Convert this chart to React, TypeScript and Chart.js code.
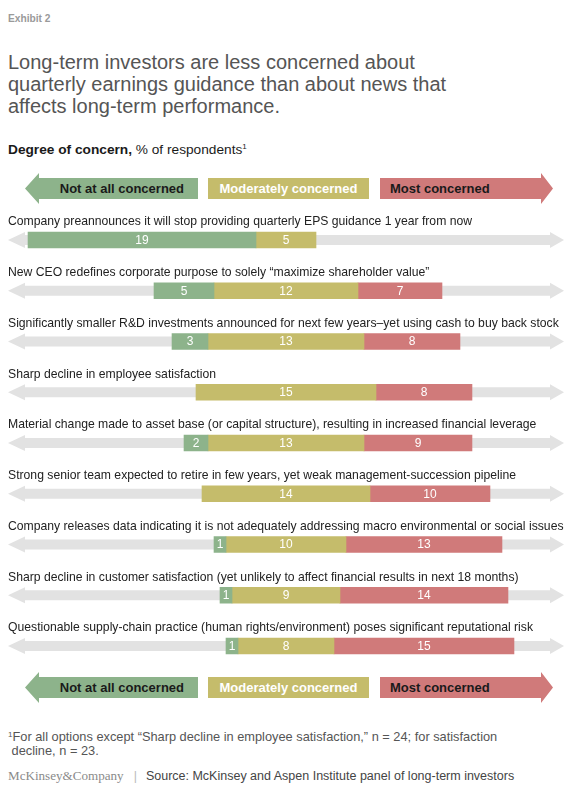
import { useEffect, useRef } from "react"
import { Chart, registerables } from "chart.js"

Chart.register(...registerables)

const categories = [
  "Company preannounces it will stop providing quarterly EPS guidance 1 year from now",
  "New CEO redefines corporate purpose to solely \u201cmaximize shareholder value\u201d",
  "Significantly smaller R&D investments announced for next few years\u2013yet using cash to buy back stock",
  "Sharp decline in employee satisfaction",
  "Material change made to asset base (or capital structure), resulting in increased financial leverage",
  "Strong senior team expected to retire in few years, yet weak management-succession pipeline",
  "Company releases data indicating it is not adequately addressing macro environmental or social issues",
  "Sharp decline in customer satisfaction (yet unlikely to affect financial results in next 18 months)",
  "Questionable supply-chain practice (human rights/environment) poses significant reputational risk",
]

// number of respondents per degree of concern
const notAtAll = [19, 5, 3, 0, 2, 0, 1, 1, 1]
const moderately = [5, 12, 13, 15, 13, 14, 10, 9, 8]
const most = [0, 7, 8, 8, 9, 10, 13, 14, 15]

const GREEN = "#8db38b"
const YELLOW = "#c5bc6b"
const RED = "#d07a7a"
const GRAY = "#e2e2e2"
const FONT = '"Liberation Sans", Arial, Helvetica, sans-serif'

document.body.style.margin = "0"

// segments are placed so that the "moderately" block is centred on zero
const greenRanges = notAtAll.map((v, i) => (v ? [-moderately[i] / 2 - v, -moderately[i] / 2] : null))
const yellowRanges = moderately.map((v) => [-v / 2, v / 2])
const redRanges = most.map((v, i) => (v ? [moderately[i] / 2, moderately[i] / 2 + v] : null))

const rowArrows = {
  id: "rowArrows",
  beforeDatasetsDraw(chart: any) {
    const { ctx, chartArea, scales } = chart
    const l = chartArea.left
    const r = chartArea.right
    ctx.save()
    ctx.fillStyle = GRAY
    categories.forEach((_, i) => {
      const y = scales.y.getPixelForValue(i)
      ctx.beginPath()
      ctx.moveTo(l, y)
      ctx.lineTo(l + 17, y - 8)
      ctx.lineTo(l + 17, y - 5)
      ctx.lineTo(r - 14, y - 5)
      ctx.lineTo(r - 14, y - 8)
      ctx.lineTo(r, y)
      ctx.lineTo(r - 14, y + 8)
      ctx.lineTo(r - 14, y + 5)
      ctx.lineTo(l + 17, y + 5)
      ctx.lineTo(l + 17, y + 8)
      ctx.closePath()
      ctx.fill()
    })
    ctx.restore()
  },
  afterDatasetsDraw(chart: any) {
    const { ctx, chartArea, scales } = chart
    ctx.save()
    // values inside the segments
    ctx.font = `12px ${FONT}`
    ctx.fillStyle = "#ffffff"
    ctx.textAlign = "center"
    ctx.textBaseline = "middle"
    const series = [notAtAll, moderately, most]
    chart.data.datasets.forEach((ds: any, d: number) => {
      ds.data.forEach((range: number[] | null, i: number) => {
        if (!range) return
        const x = scales.x.getPixelForValue((range[0] + range[1]) / 2)
        const y = scales.y.getPixelForValue(i)
        ctx.fillText(String(series[d][i]), x, y + 0.5)
      })
    })
    // row labels above the bars
    ctx.font = `12.2px ${FONT}`
    ctx.fillStyle = "#222222"
    ctx.textAlign = "left"
    categories.forEach((label, i) => {
      const y = scales.y.getPixelForValue(i)
      ctx.fillText(label, chartArea.left, y - 18)
    })
    ctx.restore()
  },
}

function ConcernChart() {
  const chartRef = useRef<HTMLCanvasElement>(null)
  const chartInstance = useRef<Chart | null>(null)

  useEffect(() => {
    if (!chartRef.current) return
    if (chartInstance.current) chartInstance.current.destroy()

    const common = { grouped: false, barThickness: 16, borderWidth: 0, borderSkipped: false }

    chartInstance.current = new Chart(chartRef.current, {
      type: "bar",
      data: {
        labels: categories,
        datasets: [
          { label: "Not at all concerned", data: greenRanges as any, backgroundColor: GREEN, ...common },
          { label: "Moderately concerned", data: yellowRanges as any, backgroundColor: YELLOW, ...common },
          { label: "Most concerned", data: redRanges as any, backgroundColor: RED, ...common },
        ],
      },
      options: {
        indexAxis: "y",
        responsive: true,
        maintainAspectRatio: false,
        animation: false,
        layout: { padding: { left: 8, right: 11, top: 9.6, bottom: 3.65 } },
        plugins: { legend: { display: false }, tooltip: { enabled: false } },
        scales: {
          x: { type: "linear", min: -23.17, max: 23.17, display: false },
          y: { type: "category", display: false, offset: true },
        },
      },
      plugins: [rowArrows],
    })

    return () => {
      if (chartInstance.current) {
        chartInstance.current.destroy()
        chartInstance.current = null
      }
    }
  }, [])

  return <canvas ref={chartRef} />
}

function Legend({ top }: { top: number }) {
  const text = { fontWeight: 700, fontSize: 13, lineHeight: "21px" } as const
  return (
    <>
      <div
        style={{
          position: "absolute",
          left: 25,
          top: top - 5,
          width: 173,
          height: 31,
          background: GREEN,
          clipPath: "polygon(0 50%, 14px 0, 14px 5px, 100% 5px, 100% 26px, 14px 26px, 14px 100%)",
        }}
      >
        <div style={{ ...text, position: "absolute", top: 5, right: 14, color: "#1a1a1a" }}>Not at all concerned</div>
      </div>
      <div
        style={{
          ...text,
          position: "absolute",
          left: 208,
          top,
          width: 161,
          height: 21,
          background: YELLOW,
          color: "#ffffff",
          textAlign: "center",
        }}
      >
        Moderately concerned
      </div>
      <div
        style={{
          position: "absolute",
          left: 380,
          top: top - 5,
          width: 173,
          height: 31,
          background: RED,
          clipPath: "polygon(0 5px, 161px 5px, 161px 0, 100% 50%, 161px 100%, 161px 26px, 0 26px)",
        }}
      >
        <div style={{ ...text, position: "absolute", top: 5, left: 10, color: "#1a1a1a" }}>Most concerned</div>
      </div>
    </>
  )
}

export default function App() {
  return (
    <div style={{ position: "relative", width: 575, height: 792, fontFamily: FONT, background: "#ffffff" }}>
      <div style={{ position: "absolute", left: 8, top: 12, fontSize: 10.2, lineHeight: "14px", fontWeight: 700, color: "#9a9a9a" }}>
        Exhibit 2
      </div>
      <div style={{ position: "absolute", left: 8, top: 51, fontSize: 20, lineHeight: "22px", color: "#555555" }}>
        Long-term investors are less concerned about
        <br />
        quarterly earnings guidance than about news that
        <br />
        affects long-term performance.
      </div>
      <div style={{ position: "absolute", left: 8, top: 142, fontSize: 13.7, lineHeight: "16px", color: "#1a1a1a" }}>
        <b>Degree of concern,</b> % of respondents<sup style={{ fontSize: 8, verticalAlign: "5px", lineHeight: 0 }}>1</sup>
      </div>

      <Legend top={178} />

      <div style={{ position: "absolute", left: 0, top: 205, width: 575, height: 470 }}>
        <ConcernChart />
      </div>

      <Legend top={677} />

      <div style={{ position: "absolute", left: 8, top: 730, fontSize: 12.8, lineHeight: "14px", color: "#555555" }}>
        <sup style={{ fontSize: 8, verticalAlign: "4px", lineHeight: 0 }}>1</sup>
        For all options except &ldquo;Sharp decline in employee satisfaction,&rdquo; n = 24; for satisfaction
        <br />
        &nbsp;decline, n = 23.
      </div>
      <div style={{ position: "absolute", left: 8, top: 768, fontSize: 12.5, lineHeight: "16px", color: "#444444", whiteSpace: "nowrap" }}>
        <span style={{ fontFamily: '"Liberation Serif", "Times New Roman", serif', fontSize: 13.1, color: "#8a8a8a" }}>
          McKinsey&amp;Company
        </span>
        <span style={{ color: "#bbbbbb", margin: "0 9px 0 10px" }}>|</span>
        Source: McKinsey and Aspen Institute panel of long-term investors
      </div>
    </div>
  )
}
